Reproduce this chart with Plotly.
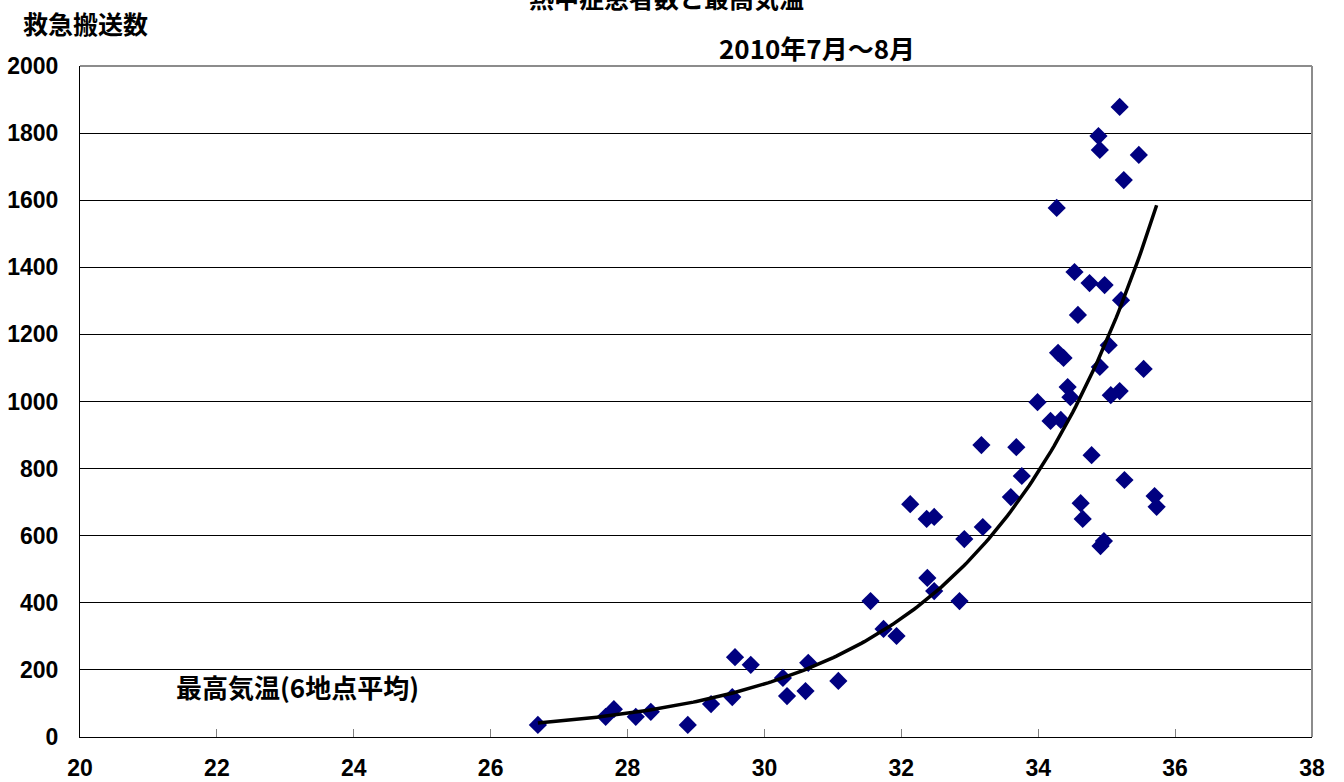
import numpy as np
import plotly.graph_objects as go

# 最高気温（6地点平均, ℃）と救急搬送数（2010年7月〜8月の日別）
max_temp = [
    26.69, 27.68, 27.80, 28.12, 28.34, 28.88, 29.22, 29.53, 29.57, 29.80,
    30.27, 30.33, 30.60, 30.64, 31.08, 31.55, 31.74, 31.93, 32.13, 32.38,
    32.37, 32.48, 32.48, 32.85, 32.92, 33.19, 33.17, 33.60, 33.68, 33.76,
    33.99, 34.18, 34.33, 34.27, 34.29, 34.37, 34.43, 34.47, 34.53, 34.58,
    34.62, 34.65, 34.75, 34.78, 34.88, 34.90, 34.90, 34.96, 34.91, 34.97,
    35.03, 35.06, 35.19, 35.19, 35.21, 35.26, 35.25, 35.47, 35.54, 35.70,
    35.73,
]
transports = [
    36, 60, 83, 60, 75, 36, 98, 119, 238, 215,
    176, 122, 137, 221, 167, 405, 322, 301, 694, 474,
    650, 656, 435, 405, 590, 626, 870, 715, 864, 778,
    998, 942, 945, 1577, 1145, 1130, 1043, 1013, 1386, 1258,
    697, 650, 1353, 840, 1791, 1750, 1103, 584, 569, 1347,
    1168, 1019, 1031, 1878, 1302, 766, 1660, 1735, 1097, 718,
    686,
]

x_ticks = [20, 22, 24, 26, 28, 30, 32, 34, 36, 38]
y_ticks = [0, 200, 400, 600, 800, 1000, 1200, 1400, 1600, 1800, 2000]

title_main = "熱中症患者数と最高気温"
title_sub = "2010年7月～8月"
y_title = "救急搬送数"
x_title = "最高気温(6地点平均)"

# exponential trend line: y = a * exp(b * x), least squares on log(y)
xs = np.array(max_temp)
ys = np.array(transports)
b, ln_a = np.polyfit(xs, np.log(ys), 1)
fit_x = np.linspace(xs.min(), xs.max(), 200)
fit_y = np.exp(ln_a + b * fit_x)

CJK = "Noto Sans CJK JP"
NUM = "Liberation Sans, Arial, sans-serif"

fig = go.Figure()
fig.add_trace(go.Scatter(
    x=max_temp, y=transports, mode="markers",
    marker=dict(symbol="diamond", size=14, color="#000080", line=dict(width=0)),
    showlegend=False, hoverinfo="x+y",
))
fig.add_trace(go.Scatter(
    x=fit_x, y=fit_y, mode="lines",
    line=dict(color="black", width=3.5),
    showlegend=False, hoverinfo="skip",
))

fig.update_layout(
    width=1344, height=782,
    margin=dict(l=80, r=32, t=66, b=45),
    paper_bgcolor="white", plot_bgcolor="white",
    xaxis=dict(
        range=[20, 38], tickvals=x_ticks, ticktext=[str(v) for v in x_ticks],
        automargin=False,
        showgrid=False, zeroline=False,
        showline=True, linecolor="black", linewidth=1,
        ticks="inside", ticklen=8, tickcolor="#808080", tickwidth=1,
        tickfont=dict(family=NUM, size=23, color="black", weight="bold"),
        ticklabelstandoff=10,
    ),
    yaxis=dict(
        range=[0, 2000], tickvals=y_ticks, ticktext=[str(v) for v in y_ticks],
        automargin=False,
        showgrid=True, gridcolor="black", gridwidth=1,
        zeroline=False,
        showline=True, linecolor="black", linewidth=1,
        ticks="",
        tickfont=dict(family=NUM, size=23, color="black", weight="bold"),
        ticklabelstandoff=16,
    ),
    shapes=[
        dict(type="line", xref="paper", yref="paper", x0=0, x1=1, y0=1, y1=1,
             line=dict(color="#8c8c8c", width=2)),
        dict(type="line", xref="paper", yref="paper", x0=1, x1=1, y0=0, y1=1,
             line=dict(color="#8c8c8c", width=2)),
    ],
    annotations=[
        dict(text=f"<b>{title_main}</b>", xref="paper", yref="paper",
             x=0.476, y=1.1035, xanchor="center", yanchor="middle", showarrow=False,
             font=dict(family=CJK, size=25, color="black")),
        dict(text=f"<b>{title_sub}</b>", xref="paper", yref="paper",
             x=0.5986, y=1.0283, xanchor="center", yanchor="middle", showarrow=False,
             font=dict(family=CJK, size=26, color="black")),
        dict(text=f"<b>{y_title}</b>", xref="paper", yref="paper",
             x=-0.0475, y=1.064, xanchor="left", yanchor="middle", showarrow=False,
             font=dict(family=CJK, size=25, color="black")),
        dict(text=f"<b>{x_title}</b>", xref="paper", yref="paper",
             x=0.0767, y=0.076, xanchor="left", yanchor="middle", showarrow=False,
             font=dict(family=CJK, size=26, color="black")),
    ],
)

fig.write_html("out.html")
